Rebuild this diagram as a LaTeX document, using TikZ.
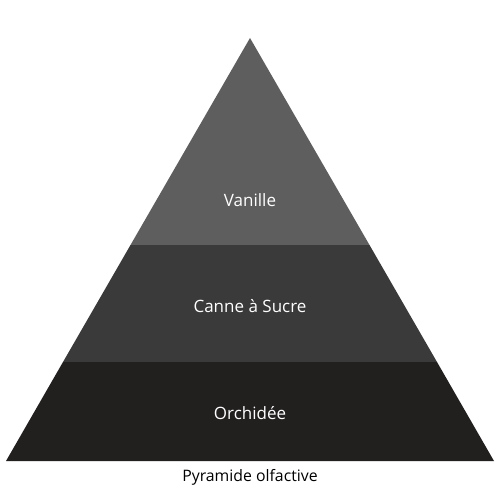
\documentclass[tikz,border=0pt]{standalone}
\usepackage{fontspec}
\setmainfont{Open Sans}
\definecolor{topc}{HTML}{5E5E5E}
\definecolor{midc}{HTML}{3A3A3A}
\definecolor{botc}{HTML}{221F1F}
\begin{document}
\begin{tikzpicture}[x=1pt,y=-1pt,
  band/.style={draw=none},
  lbl/.style={text=white,font=\fontsize{17}{19}\selectfont,anchor=center},
  captxt/.style={text=black,font=\fontsize{15.8}{18}\selectfont,anchor=center}]
\useasboundingbox (0,0) rectangle (500,500);
\fill[white] (0,0) rectangle (500,500);
\coordinate (apex) at (250,38);
\coordinate (l1) at (130.5,245);
\coordinate (r1) at (369.5,245);
\coordinate (l2) at (63,362);
\coordinate (r2) at (437,362);
\coordinate (l3) at (6,461);
\coordinate (r3) at (494,461);
\fill[topc,band] (apex) -- (r1) -- (l1) -- cycle;
\fill[midc,band] (l1) -- (r1) -- (r2) -- (l2) -- cycle;
\fill[botc,band] (l2) -- (r2) -- (r3) -- (l3) -- cycle;
\node[lbl] (v) at (250,200) {Vanille};
\node[lbl] (c) at (250,306) {Canne à Sucre};
\node[lbl] (o) at (250,413) {Orchidée};
\node[captxt] (p) at (250,477.5) {Pyramide olfactive};
\end{tikzpicture}
\end{document}
